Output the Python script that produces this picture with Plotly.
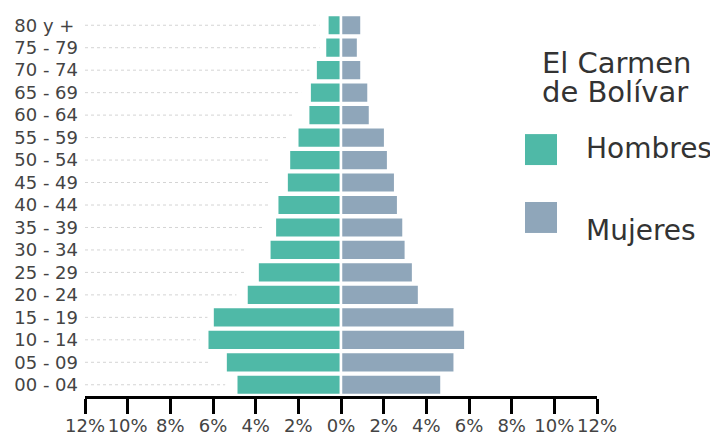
import plotly.graph_objects as go

# ---- data (percent of population) ----
grupos = ["00 - 04", "05 - 09", "10 - 14", "15 - 19", "20 - 24", "25 - 29", "30 - 34",
          "35 - 39", "40 - 44", "45 - 49", "50 - 54", "55 - 59", "60 - 64", "65 - 69",
          "70 - 74", "75 - 79", "80 y +"]
hombres = [4.91, 5.41, 6.27, 6.02, 4.43, 3.91, 3.36, 3.10, 2.99, 2.55, 2.44, 2.05,
           1.54, 1.47, 1.19, 0.75, 0.64]
mujeres = [4.71, 5.33, 5.83, 5.33, 3.66, 3.38, 3.04, 2.93, 2.68, 2.54, 2.21, 2.07,
           1.36, 1.29, 0.96, 0.80, 0.96]
# where the dotted guide lines stop (percent, left side)
guia_fin = [5.43, 6.13, 6.63, 6.26, 4.90, 4.43, 4.43, 3.59, 3.35, 3.35, 3.35, 2.55,
            2.18, 1.87, 1.48, 1.01, 1.01]
tick_vals = [-12, -10, -8, -6, -4, -2, 0, 2, 4, 6, 8, 10, 12]
tick_text = ["12%", "10%", "8%", "6%", "4%", "2%", "0%", "2%", "4%", "6%", "8%", "10%", "12%"]
titulo = ["El Carmen", "de Bolívar"]
series = ["Hombres", "Mujeres"]

VERDE = "#4fb9a7"
AZUL = "#8fa6ba"
FONT = "DejaVu Sans"
TXT = "#444444"

OFF = 8  # page body margin
W, H = 718 - OFF, 434 - OFF
# plot area in page pixels
L, R, T, B = 85, 597, 13.75, 396.25


def px(x):
    return (x - L) / (R - L)


def py(y):
    return (B - y) / (B - T)


# labels are visually left-aligned in the reference: pad the shorter one
etiquetas = [g if g != "80 y +" else g + "\u2009" for g in grupos]

fig = go.Figure()

# dotted guide lines
gx, gy = [], []
for g, e in zip(grupos, guia_fin):
    gx += [-12, -e, None]
    gy += [g, g, None]
fig.add_trace(go.Scatter(x=gx, y=gy, mode="lines",
                         line=dict(color="#d4d4d4", width=1, dash="dot"),
                         hoverinfo="skip", showlegend=False))

fig.add_trace(go.Bar(y=grupos, x=[-v for v in hombres], orientation="h", name=series[0],
                     marker=dict(color=VERDE, line=dict(color="white", width=2.5)),
                     showlegend=False, customdata=hombres,
                     hovertemplate="%{y}: %{customdata}%<extra>Hombres</extra>"))
fig.add_trace(go.Bar(y=grupos, x=mujeres, orientation="h", name=series[1],
                     marker=dict(color=AZUL, line=dict(color="white", width=2.5)),
                     showlegend=False,
                     hovertemplate="%{y}: %{x}%<extra>Mujeres</extra>"))

# legend (drawn manually)
fig.add_annotation(x=px(540), y=py(62.5), xref="paper", yref="paper", text=titulo[0],
                   showarrow=False, xanchor="left", yanchor="middle",
                   font=dict(family=FONT, size=29, color="#333333"))
fig.add_annotation(x=px(540), y=py(91.5), xref="paper", yref="paper", text=titulo[1],
                   showarrow=False, xanchor="left", yanchor="middle",
                   font=dict(family=FONT, size=29, color="#333333"))
fig.add_shape(type="rect", xref="paper", yref="paper", x0=px(525), x1=px(557),
              y0=py(165), y1=py(134), fillcolor=VERDE, line=dict(width=0))
fig.add_shape(type="rect", xref="paper", yref="paper", x0=px(525), x1=px(557),
              y0=py(233), y1=py(202), fillcolor=AZUL, line=dict(width=0))
fig.add_annotation(x=px(584), y=py(148), xref="paper", yref="paper", text=series[0],
                   showarrow=False, xanchor="left", yanchor="middle",
                   font=dict(family=FONT, size=28, color="#333333"))
fig.add_annotation(x=px(584), y=py(231), xref="paper", yref="paper", text=series[1],
                   showarrow=False, xanchor="left", yanchor="middle",
                   font=dict(family=FONT, size=28, color="#333333"))

fig.update_layout(
    width=W, height=H, autosize=False,
    margin=dict(l=L - OFF, r=W - (R - OFF), t=T - OFF, b=H - (B - OFF), pad=0,
                autoexpand=False),
    paper_bgcolor="white", plot_bgcolor="white",
    barmode="relative", bargap=0.08,
    showlegend=False,
    font=dict(family=FONT, size=18, color=TXT),
)
fig.update_xaxes(range=[-12, 12], tickvals=tick_vals, ticktext=tick_text, tickangle=0,
                 automargin=False, ticklabelstandoff=-4,
                 showgrid=False, zeroline=False, showline=True, linecolor="black",
                 linewidth=3, ticks="outside", ticklen=15, tickwidth=3, tickcolor="black",
                 tickfont=dict(family=FONT, size=18, color=TXT), fixedrange=True)
fig.update_yaxes(type="category", categoryorder="array", categoryarray=grupos,
                 tickvals=grupos, ticktext=etiquetas,
                 range=[-0.5, len(grupos) - 0.5], automargin=False,
                 showgrid=False, zeroline=False, showline=False, ticks="",
                 ticklabelstandoff=6,
                 tickfont=dict(family=FONT, size=18, color=TXT), fixedrange=True)

fig.write_html("out.html")
